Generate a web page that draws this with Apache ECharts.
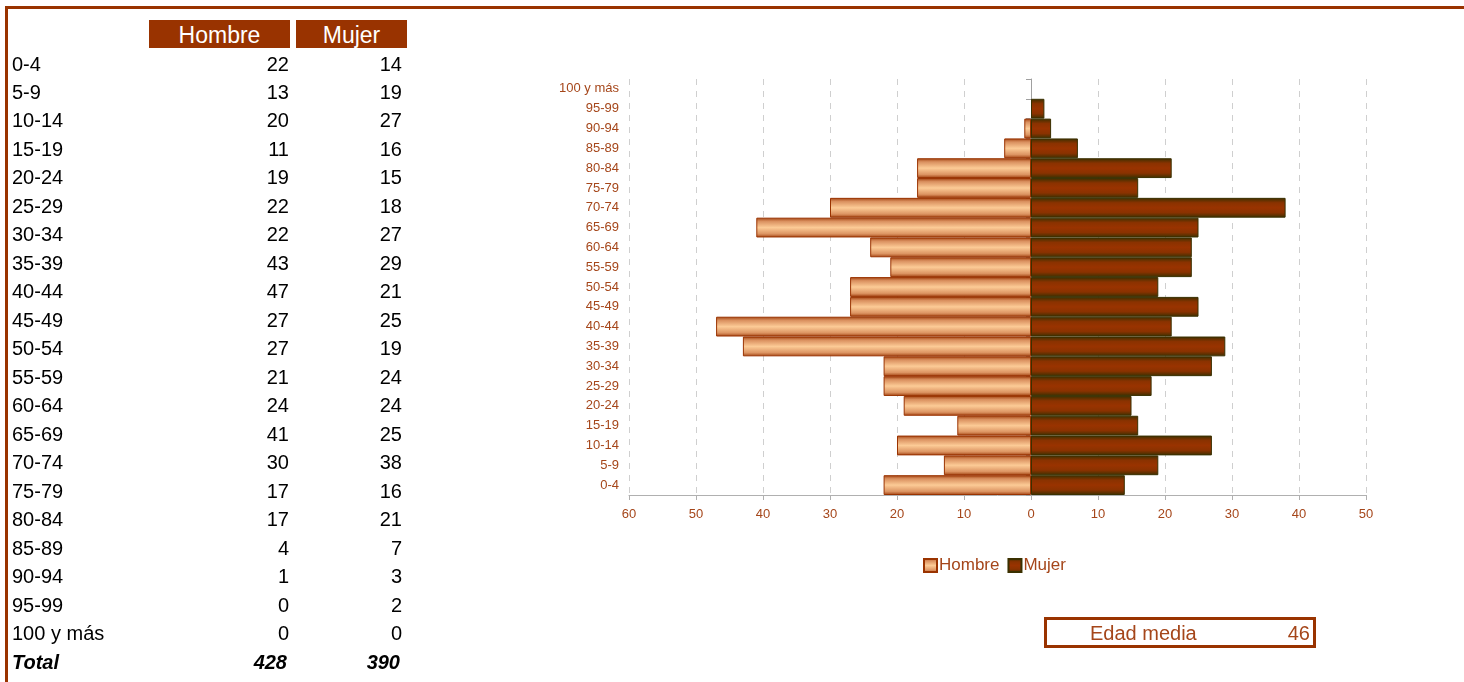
<!DOCTYPE html>
<html>
<head>
<meta charset="utf-8">
<script src="https://cdn.jsdelivr.net/npm/echarts@6/dist/echarts.min.js"></script>
<style>
  html, body { margin:0; padding:0; width:1464px; height:682px; overflow:hidden; background:#fff; font-family: Arial, 'Liberation Sans', sans-serif; }
  #chart { position:absolute; left:0; top:0; width:1464px; height:682px; }
  #overlay { position:absolute; left:0; top:0; width:1464px; height:682px; pointer-events:none; }
  .frameTop { position:absolute; left:5px; top:6px; width:1459px; height:3px; background:#993300; }
  .frameLeft { position:absolute; left:5px; top:6px; width:3px; height:676px; background:#993300; }
  .hdr { position:absolute; top:20px; height:28px; line-height:30px; background:#993300; color:#fff; font-size:23px; text-align:center; }
  .cell { position:absolute; font-size:20px; color:#000; line-height:24px; height:24px; white-space:nowrap; }
  .num { text-align:right; width:80px; }
  .tot { font-weight:bold; font-style:italic; }
  #edad { position:absolute; left:1044px; top:617px; width:266px; height:25px; border:3px solid #993300; color:#a5461a; font-size:20px; }
  #edad span { position:absolute; top:1px; line-height:24px; }
</style>
</head>
<body>
<div id="chart"></div>
<div id="overlay"></div>
<script>
// ---- data ----
var categories = ['0-4','5-9','10-14','15-19','20-24','25-29','30-34','35-39','40-44','45-49','50-54','55-59','60-64','65-69','70-74','75-79','80-84','85-89','90-94','95-99','100 y más'];
var hombre = [22,13,20,11,19,22,22,43,47,27,27,21,24,41,30,17,17,4,1,0,0];
var mujer  = [14,19,27,16,15,18,27,29,21,25,19,24,24,25,38,16,21,7,3,2,0];
var totals = [428, 390];
var seriesNames = ['Hombre','Mujer'];
var xTicks = {min:-60, max:50, interval:10};
var edadMediaLabel = 'Edad media';
var edadMediaValue = 46;

// ---- HTML table ----
var ov = document.getElementById('overlay');
function add(html){ ov.insertAdjacentHTML('beforeend', html); }
add('<div class="frameTop"></div><div class="frameLeft"></div>');
add('<div class="hdr" style="left:149px;width:141px;">' + seriesNames[0] + '</div>');
add('<div class="hdr" style="left:296px;width:111px;">' + seriesNames[1] + '</div>');
var y0 = 63.5, dy = 28.48;
for (var i = 0; i < categories.length; i++) {
  var yc = Math.round(y0 + i*dy) - 12;
  add('<div class="cell" style="left:12px;top:' + yc + 'px;">' + categories[i] + '</div>');
  add('<div class="cell num" style="left:209px;top:' + yc + 'px;">' + hombre[i] + '</div>');
  add('<div class="cell num" style="left:322px;top:' + yc + 'px;">' + mujer[i] + '</div>');
}
var yt = Math.round(y0 + categories.length*dy) - 12;
add('<div class="cell tot" style="left:12px;top:' + yt + 'px;">Total</div>');
add('<div class="cell num tot" style="left:207px;top:' + yt + 'px;">' + totals[0] + '</div>');
add('<div class="cell num tot" style="left:320px;top:' + yt + 'px;">' + totals[1] + '</div>');
add('<div id="edad"><span style="left:43px;">' + edadMediaLabel + '</span><span style="right:3px;">' + edadMediaValue + '</span></div>');

// ---- chart ----
var labelColor = '#a5461a';
var hombreGrad = new echarts.graphic.LinearGradient(0,0,0,1,[
  {offset:0, color:'#a0400f'},
  {offset:0.18, color:'#d98f5e'},
  {offset:0.5, color:'#fccb96'},
  {offset:0.82, color:'#dc9462'},
  {offset:1, color:'#a0400f'}
]);
var mujerGrad = new echarts.graphic.LinearGradient(0,0,0,1,[
  {offset:0, color:'#3a3000'},
  {offset:0.25, color:'#8a3200'},
  {offset:0.5, color:'#993300'},
  {offset:0.75, color:'#8a3200'},
  {offset:1, color:'#3a3000'}
]);
function barData(arr, sign){
  return arr.map(function(v){
    return v === 0 ? {value:0, itemStyle:{borderWidth:0}} : sign*v;
  });
}

var chart = echarts.init(document.getElementById('chart'), null, {renderer:'canvas'});
chart.setOption({
  animation:false,
  textStyle:{fontFamily:"Arial, 'Liberation Sans', sans-serif"},
  grid:{left:629, right:98, top:79, bottom:187, containLabel:false},
  legend:{
    data:seriesNames, left:918, top:552, itemWidth:13, itemHeight:13, itemGap:8,
    icon:'rect',
    textStyle:{color:labelColor, fontSize:17, padding:[0,0,0,-3]}
  },
  xAxis:{
    type:'value', min:xTicks.min, max:xTicks.max, interval:xTicks.interval,
    axisLine:{show:true, onZero:false, lineStyle:{color:'#b0b0b0', width:1}},
    axisTick:{show:true, length:5, lineStyle:{color:'#b0b0b0'}},
    axisLabel:{color:labelColor, fontSize:13, margin:13, formatter:function(v){return Math.abs(v);}},
    splitLine:{show:true, lineStyle:{color:'#cfcfcf', type:[6,6], width:1}}
  },
  yAxis:{
    type:'category', data:categories, position:'left',
    axisLine:{show:true, onZero:true, lineStyle:{color:'#a0a0a0'}},
    axisTick:{show:true, length:5, lineStyle:{color:'#a0a0a0'}},
    axisLabel:{color:labelColor, fontSize:13, margin:10, interval:0}
  },
  series:[{
    name:seriesNames[0], type:'bar',
    data:barData(hombre, -1),
    barCategoryGap:0, barGap:'-100%',
    itemStyle:{color:hombreGrad, borderColor:'#9a3300', borderWidth:1}
  },{
    name:seriesNames[1], type:'bar',
    data:barData(mujer, 1),
    barCategoryGap:0, barGap:'-100%',
    itemStyle:{color:mujerGrad, borderColor:'#3a3000', borderWidth:1}
  }]
});
</script>
</body>
</html>
